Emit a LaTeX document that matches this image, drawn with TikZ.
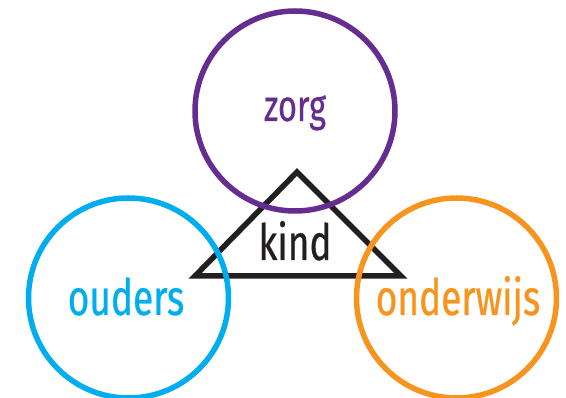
\documentclass[tikz,border=0pt]{standalone}
\usepackage{fontspec}
\newfontfamily\lblfont{Fira Sans}[FakeStretch=0.74, FakeBold=0.6]
\definecolor{cpurple}{HTML}{662D91}
\definecolor{cblue}{HTML}{00AEEF}
\definecolor{corange}{HTML}{F7941D}
\definecolor{cblack}{HTML}{231F20}
\tikzset{
  ring/.style={line width=5.5pt},
  lbl/.style={anchor=base, inner sep=0pt, font=\lblfont\fontsize{50}{50}\selectfont},
}
\begin{document}
\begin{tikzpicture}[x=1pt,y=-1pt]
\useasboundingbox (0,0) rectangle (566,398);
\clip (0,0) rectangle (566,398);
\coordinate (apex) at (297,172);
\coordinate (bl) at (195,276);
\coordinate (br) at (401,276);
\draw[cblack, line width=5.5pt, miter limit=10] (apex) -- (bl) -- (br) -- cycle;
\node[lbl, text=cblack] (kind) at (295,260) {kind};
\node[circle, ring, draw=cpurple, minimum size=200pt] (zorg) at (295,111) {};
\node[circle, ring, draw=cblue, minimum size=200pt] (ouders) at (128.5,298) {};
\node[circle, ring, draw=corange, minimum size=200pt] (onderwijs) at (456.5,298) {};
\node[lbl, text=cpurple, font=\lblfont\fontsize{44}{44}\selectfont] (tz) at (295,121) {zorg};
\node[lbl, text=cblue] (to) at (126,315) {ouders};
\node[lbl, text=corange] (tw) at (458,315) {onderwijs};
\end{tikzpicture}
\end{document}
